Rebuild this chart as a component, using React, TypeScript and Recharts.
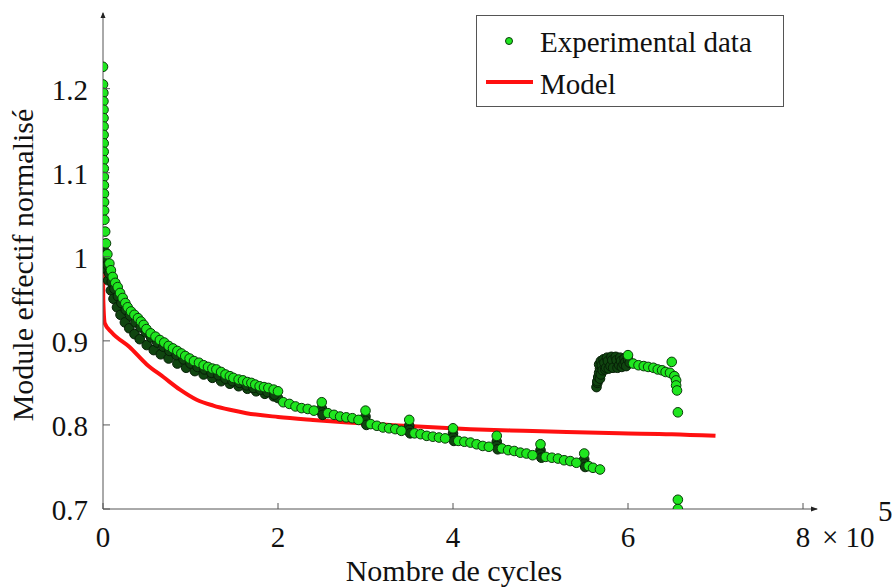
import React from 'react';
import { ComposedChart, Scatter, Line, XAxis, YAxis, Legend, ReferenceDot } from 'recharts';

const serif = '"Liberation Serif", "Times New Roman", serif';
const axisColor = '#555';

// cycles are in units of 10^5
const xTicks = [0, 2, 4, 6, 8];
const yTicks = [0.7, 0.8, 0.9, 1, 1.1, 1.2];

// steep first cycles, almost on the y axis
const earlyColumn: [number, number][] = [
  [0, 1.226], [0, 1.205], [0.004, 1.195], [0.005, 1.185], [0.006, 1.175], [0.006, 1.165],
  [0.007, 1.155], [0.007, 1.145], [0.008, 1.135], [0.008, 1.125], [0.009, 1.115],
  [0.009, 1.105], [0.01, 1.095], [0.01, 1.085], [0.011, 1.075], [0.012, 1.065], [0.013, 1.055],
];

// upper (visible) edge of the first phase
const mainCurve: [number, number][] = [
  [0.016, 1.044], [0.025, 1.03], [0.034, 1.016], [0.05, 1.003], [0.073, 0.992], [0.09, 0.984],
  [0.111, 0.976], [0.14, 0.969], [0.168, 0.964], [0.195, 0.957], [0.225, 0.951], [0.255, 0.945],
  [0.282, 0.94], [0.32, 0.935], [0.359, 0.931], [0.4, 0.927], [0.434, 0.923], [0.465, 0.919],
  [0.496, 0.914], [0.545, 0.909], [0.6, 0.905], [0.65, 0.901], [0.7, 0.898], [0.75, 0.894],
  [0.8, 0.891], [0.85, 0.888], [0.896, 0.885], [0.94, 0.882], [0.99, 0.879], [1.04, 0.876],
  [1.097, 0.874], [1.15, 0.871], [1.2, 0.869], [1.25, 0.867], [1.296, 0.866], [1.35, 0.863],
  [1.4, 0.86], [1.45, 0.858], [1.49, 0.856], [1.55, 0.854], [1.6, 0.853], [1.65, 0.851],
  [1.696, 0.85], [1.74, 0.848], [1.79, 0.846], [1.84, 0.845], [1.89, 0.844], [1.95, 0.842],
  [2.0, 0.84],
  [2.06, 0.827], [2.13, 0.825], [2.2, 0.822], [2.27, 0.82], [2.34, 0.819], [2.41, 0.817],
  [2.5, 0.827], [2.57, 0.814], [2.64, 0.812], [2.71, 0.81], [2.78, 0.809], [2.85, 0.808],
  [2.92, 0.806], [3.0, 0.817], [3.06, 0.801], [3.13, 0.799], [3.2, 0.797], [3.27, 0.796],
  [3.34, 0.795], [3.41, 0.793], [3.5, 0.806], [3.56, 0.79], [3.63, 0.789], [3.7, 0.787],
  [3.77, 0.786], [3.84, 0.785], [3.91, 0.784], [4.0, 0.796], [4.06, 0.781], [4.13, 0.78],
  [4.2, 0.779], [4.27, 0.777], [4.34, 0.775], [4.41, 0.774], [4.5, 0.787], [4.56, 0.772],
  [4.63, 0.77], [4.7, 0.769], [4.77, 0.767], [4.84, 0.766], [4.91, 0.764], [5.0, 0.777],
  [5.06, 0.762], [5.13, 0.761], [5.2, 0.76], [5.27, 0.758], [5.34, 0.757], [5.41, 0.755],
  [5.5, 0.766], [5.55, 0.751], [5.6, 0.749], [5.68, 0.747],
];

// dense overlapping points below the upper edge (they look dark)
const mainCurveMid: [number, number][] = [
  [0.03, 1.005], [0.05, 0.99], [0.07, 0.98], [0.1, 0.97], [0.13, 0.962], [0.17, 0.953],
  [0.21, 0.945], [0.26, 0.937], [0.31, 0.93], [0.37, 0.922], [0.43, 0.916], [0.49, 0.91],
  [0.55, 0.904], [0.62, 0.898], [0.69, 0.893], [0.76, 0.888], [0.84, 0.883], [0.92, 0.878],
  [1.0, 0.873], [1.08, 0.869], [1.16, 0.866], [1.24, 0.862], [1.32, 0.859], [1.4, 0.855],
  [1.48, 0.852], [1.56, 0.85], [1.64, 0.847], [1.72, 0.844], [1.8, 0.842], [1.88, 0.839],
  [1.96, 0.836],
];

const mainCurveLower: [number, number][] = [
  [0.02, 1.0], [0.04, 0.985], [0.06, 0.972], [0.09, 0.96], [0.12, 0.95], [0.16, 0.94],
  [0.2, 0.931], [0.25, 0.922], [0.3, 0.915], [0.36, 0.908], [0.42, 0.902], [0.5, 0.895],
  [0.58, 0.889], [0.66, 0.884], [0.75, 0.879], [0.85, 0.873], [0.95, 0.868], [1.05, 0.864],
  [1.15, 0.86], [1.25, 0.856], [1.35, 0.852], [1.45, 0.849], [1.55, 0.846], [1.65, 0.843],
  [1.75, 0.84], [1.85, 0.837], [1.95, 0.834], [2.0, 0.832],
];

const unloadClusters: [number, number][] = [
  [2.5, 0.82], [2.5, 0.815], [2.51, 0.812], [3.0, 0.81], [3.0, 0.805], [3.01, 0.8],
  [3.5, 0.799], [3.5, 0.794], [3.51, 0.79], [4.0, 0.79], [4.0, 0.785], [4.01, 0.781],
  [4.5, 0.78], [4.5, 0.775], [4.51, 0.771], [5.0, 0.77], [5.0, 0.765], [5.01, 0.761],
  [5.5, 0.759], [5.5, 0.754], [5.51, 0.75],
];

const secondPhaseDense: [number, number][] = [
  [5.64, 0.845], [5.65, 0.85], [5.65, 0.852], [5.66, 0.857], [5.67, 0.862], [5.68, 0.855],
  [5.68, 0.867], [5.69, 0.86], [5.67, 0.872], [5.69, 0.876], [5.7, 0.871], [5.71, 0.865],
  [5.72, 0.878], [5.73, 0.874], [5.74, 0.866], [5.75, 0.868], [5.76, 0.88], [5.77, 0.876],
  [5.78, 0.867], [5.8, 0.87], [5.81, 0.881], [5.82, 0.877], [5.83, 0.868], [5.86, 0.881],
  [5.87, 0.877], [5.88, 0.868], [5.9, 0.871], [5.91, 0.88], [5.92, 0.876], [5.93, 0.869],
  [5.95, 0.872], [5.96, 0.879], [5.97, 0.875], [5.98, 0.87], [6.0, 0.878], [6.02, 0.874],
];

const secondPhase: [number, number][] = [
  [6.0, 0.883], [6.06, 0.873], [6.12, 0.871], [6.18, 0.87], [6.23, 0.869], [6.29, 0.868],
  [6.34, 0.866], [6.39, 0.865], [6.43, 0.863], [6.48, 0.862], [6.5, 0.875], [6.53, 0.858],
  [6.55, 0.853], [6.55, 0.847], [6.56, 0.841], [6.57, 0.815], [6.57, 0.711], [6.57, 0.7],
];

const modelCycles = [0, 0.003, 0.02, 0.1, 0.3, 0.5, 0.69, 0.88, 1.07, 1.26, 1.45, 1.64, 2.0, 2.4, 2.8, 3.2, 3.6, 4.2, 4.8, 5.3, 5.9, 6.5, 7.0];
const modelValues = [0.996, 0.95, 0.921, 0.91, 0.893, 0.872, 0.857, 0.842, 0.83, 0.823, 0.818, 0.814, 0.8095, 0.806, 0.803, 0.8005, 0.798, 0.795, 0.793, 0.7915, 0.79, 0.789, 0.787];

const toPoints = (arr: [number, number][]) => arr.map(([x, y]) => ({ x, y }));

const greenData = toPoints([...earlyColumn, ...mainCurve, ...secondPhase]);
const darkData = toPoints([...mainCurveLower, ...mainCurveMid, ...unloadClusters, ...secondPhaseDense]);
const modelData = modelCycles.map((x, i) => ({ x, y: modelValues[i] }));

const greenDot = (props: any) => (
  <circle cx={props.cx} cy={props.cy} r={4.8} fill="#1fe61f" stroke="#0b3a0b" strokeWidth={1} />
);
const darkDot = (props: any) => (
  <circle cx={props.cx} cy={props.cy} r={4.8} fill="#104510" stroke="#061f06" strokeWidth={1} />
);

const XTick = ({ x, y, payload }: any) => (
  <g>
    <line x1={x} y1={y} x2={x} y2={y - 6} stroke={axisColor} />
    <text x={x} y={y + 38} textAnchor="middle" fontSize={29} fill="#111" fontFamily={serif}>
      {payload.value}
    </text>
    {payload.value === 8 && (
      <>
        <text x={x + 19} y={y + 38} fontSize={29} fill="#111" fontFamily={serif}>× 10</text>
        <text x={x + 75} y={y + 12} fontSize={29} fill="#111" fontFamily={serif}>5</text>
      </>
    )}
  </g>
);

const YTick = ({ x, y, payload }: any) => (
  <g>
    <line x1={x} y1={y} x2={x + 7} y2={y} stroke={axisColor} />
    <text x={x - 15} y={y + 11} textAnchor="end" fontSize={29} fill="#111" fontFamily={serif}>
      {String(payload.value)}
    </text>
  </g>
);

const LegendBox = () => (
  <svg width={308} height={92} style={{ display: 'block' }}>
    <rect x={0.5} y={0.5} width={307} height={91} fill="#fff" stroke={axisColor} />
    <circle cx={33} cy={26} r={3.5} fill="#1fe61f" stroke="#0b3a0b" strokeWidth={1} />
    <text x={64} y={37} fontSize={29} fill="#111" fontFamily={serif}>Experimental data</text>
    <line x1={10} y1={67} x2={57} y2={67} stroke="#ff1010" strokeWidth={4} />
    <text x={64} y={79} fontSize={29} fill="#111" fontFamily={serif}>Model</text>
  </svg>
);

const arrowRight = (props: any) => (
  <polygon points={`${props.cx - 6},${props.cy - 2.5} ${props.cx + 1},${props.cy} ${props.cx - 6},${props.cy + 2.5}`} fill="#222" />
);
const arrowUp = (props: any) => (
  <polygon points={`${props.cx - 2.5},${props.cy + 5} ${props.cx},${props.cy - 1} ${props.cx + 2.5},${props.cy + 5}`} fill="#222" />
);

const App = () => {
  return (
    <div style={{ position: 'absolute', left: 0, top: 0, background: '#fff' }}>
      <ComposedChart width={892} height={587} margin={{ top: 13, right: 75, bottom: 0, left: 0 }}>
        <XAxis
          type="number"
          dataKey="x"
          domain={[0, 8.16]}
          ticks={xTicks}
          allowDataOverflow
          height={78}
          stroke={axisColor}
          tickLine={false}
          tickSize={0}
          tickMargin={0}
          tick={<XTick />}
          label={{
            content: () => (
              <text x={454} y={581} textAnchor="middle" fontSize={30} fill="#111" fontFamily={serif}>
                Nombre de cycles
              </text>
            ),
          }}
        />
        <YAxis
          type="number"
          dataKey="y"
          domain={[0.7, 1.29]}
          ticks={yTicks}
          allowDataOverflow
          width={103}
          stroke={axisColor}
          tickLine={false}
          tickSize={0}
          tickMargin={0}
          tick={<YTick />}
          label={{
            content: () => (
              <text x={33} y={265} transform="rotate(-90, 33, 265)" textAnchor="middle" fontSize={30} fill="#111" fontFamily={serif}>
                Module effectif normalisé
              </text>
            ),
          }}
        />
        <Legend
          layout="horizontal"
          verticalAlign="middle"
          align="center"
          content={<LegendBox />}
          wrapperStyle={{ position: 'absolute', left: 476, top: 15, width: 308, height: 92 }}
        />
        <Scatter name="Experimental data dense" data={darkData} shape={darkDot} legendType="none" isAnimationActive={false} />
        <Scatter name="Experimental data" data={greenData} shape={greenDot} isAnimationActive={false} />
        <Line
          name="Model"
          data={modelData}
          dataKey="y"
          type="monotone"
          stroke="#ff1010"
          strokeWidth={4}
          dot={false}
          activeDot={false}
          isAnimationActive={false}
        />
        <ReferenceDot x={8.16} y={0.7} shape={arrowRight} ifOverflow="visible" />
        <ReferenceDot x={0} y={1.29} shape={arrowUp} ifOverflow="visible" />
      </ComposedChart>
    </div>
  );
};

export default App;
